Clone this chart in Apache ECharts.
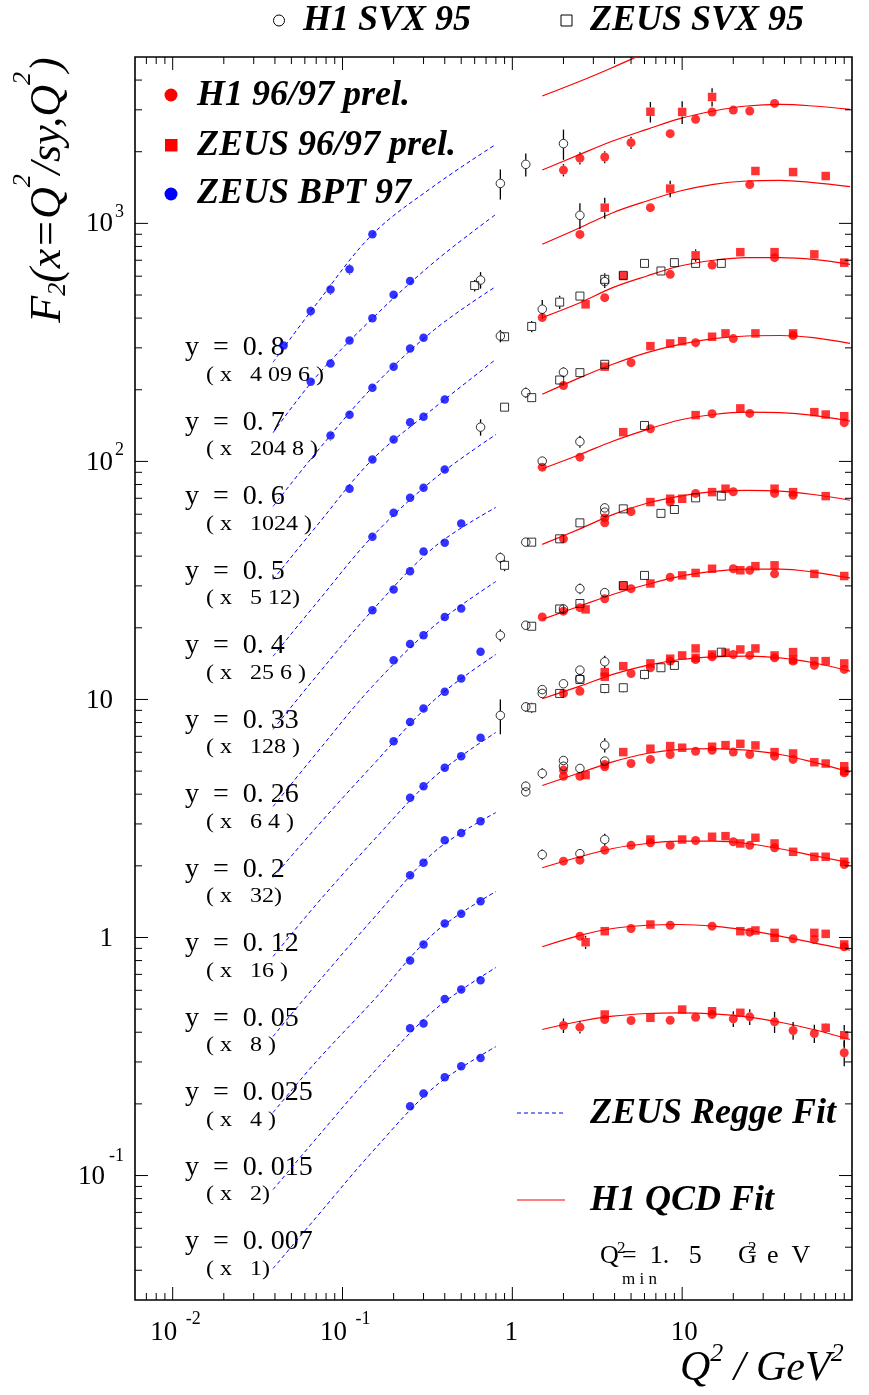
<!DOCTYPE html>
<html>
<head>
<meta charset="utf-8">
<title>F2 at fixed y versus Q2</title>
<script src="https://cdn.jsdelivr.net/npm/echarts@6/dist/echarts.min.js"></script>
<style>
  html, body { margin: 0; padding: 0; background: #ffffff; }
  #chart { width: 869px; height: 1395px; }
</style>
</head>
<body>
<div id="chart"></div>
<script>
// All F2 values below are already multiplied by the factor of their y bin.
// Points: [Q2 in GeV^2, F2 x factor, error (0 or missing = no bar)].

const BIN_Y_LABELS = ['0. 8', '0. 7', '0. 6', '0. 5', '0. 4', '0. 33', '0. 26', '0. 2', '0. 12', '0. 05', '0. 025', '0. 015', '0. 007'];
const BIN_FACTOR_LABELS = ['4 09 6 ', '204 8 ', '1024 ', '5 12', '25 6 ', '128 ', '6 4 ', '32', '16 ', '8 ', '4 ', '2', '1'];

const ZEUS_BPT97 = [
  [0.045, 307], [0.065, 428, 21], [0.085, 528, 26], [0.11, 641, 32], [0.15, 900],
  [0.065, 216], [0.085, 258], [0.11, 322], [0.15, 399], [0.2, 501], [0.25, 573],
  [0.085, 128.5, 6], [0.11, 157], [0.15, 204], [0.2, 250], [0.25, 298], [0.3, 331],
  [0.11, 76.7], [0.15, 101.9], [0.2, 123.6], [0.25, 146], [0.3, 154], [0.4, 182],
  [0.15, 48.3], [0.2, 60.8], [0.25, 70.3], [0.3, 77.6], [0.4, 92.5],
  [0.15, 23.7], [0.2, 29.0], [0.25, 34.6], [0.3, 41.8], [0.4, 45.5], [0.5, 54.8],
  [0.2, 14.6], [0.25, 17.1], [0.3, 18.6], [0.4, 22.2], [0.5, 24.1],
  [0.2, 6.68], [0.25, 8.05], [0.3, 9.17], [0.4, 10.77], [0.5, 12.25], [0.65, 15.86],
  [0.25, 3.86], [0.3, 4.32], [0.4, 5.16], [0.5, 5.78], [0.65, 6.90],
  [0.25, 1.827], [0.3, 2.06], [0.4, 2.56], [0.5, 2.75], [0.65, 3.08],
  [0.25, 0.800], [0.3, 0.935], [0.4, 1.145], [0.5, 1.258], [0.65, 1.420],
  [0.25, 0.416], [0.3, 0.435], [0.4, 0.552], [0.5, 0.605], [0.65, 0.662],
  [0.25, 0.1955], [0.3, 0.221], [0.4, 0.259], [0.5, 0.288], [0.65, 0.312]
];

const H1_SVX95 = [
  [0.85, 1472, 213], [1.2, 1770, 198], [2.0, 2163, 314],
  [2.5, 1081, 133], [0.65, 578, 46],
  [1.5, 436, 40], [3.5, 569, 34],
  [0.85, 336.5, 20], [1.2, 194.5, 10], [2.0, 237, 12],
  [0.65, 139.3, 11], [1.5, 100.3, 3], [2.5, 121.1, 7],
  [0.85, 39.4, 2], [1.2, 45.8, 2], [3.5, 63.8], [3.5, 61.2],
  [0.85, 18.6, 1.1], [1.2, 20.5], [2.0, 24.0], [2.5, 29.2, 1.5], [3.5, 28.1],
  [0.85, 8.57, 1.43], [1.2, 9.31, 0.45], [1.5, 11.0], [1.5, 10.6], [2.0, 11.64], [2.5, 13.28], [2.5, 12.22], [3.5, 14.4, 0.86],
  [1.2, 4.32, 0.2], [1.2, 4.09], [1.5, 4.89, 0.25], [2.0, 5.54], [2.0, 5.24], [2.5, 5.13], [3.5, 6.43, 0.44], [3.5, 5.51],
  [1.5, 2.23, 0.11], [2.5, 2.25, 0.1], [3.5, 2.58, 0.15]
];

const ZEUS_SVX95 = [
  [0.6, 548, 30], [0.9, 334], [1.3, 369, 20], [1.9, 467, 30], [2.5, 495], [3.5, 582, 35], [4.5, 605], [6, 679], [7.5, 631], [9, 684], [12, 679], [17, 679],
  [0.9, 169], [1.3, 185.3], [1.9, 219.8], [2.5, 236], [3.5, 255.9],
  [6, 141.6],
  [0.9, 36.6, 2], [1.3, 45.8], [1.9, 47.3], [2.5, 55.2], [4.5, 63.2], [7.5, 60.5, 2], [9, 62.8, 2], [12, 70.3], [17, 71.5, 2],
  [1.3, 20.3], [1.9, 24.0], [2.5, 25.3], [4.5, 30.1], [6, 33.2],
  [1.3, 9.23, 0.45], [1.9, 10.6], [2.5, 12.13], [3.5, 11.12, 0.5], [4.5, 11.2, 0.5], [6, 12.74, 0.6], [7.5, 13.59], [9, 13.9], [17, 15.8]
];

const H1_9697 = [
  [2, 1675, 100], [2.5, 1879, 110], [3.5, 1901, 110], [5, 2183, 130], [8.5, 2382], [12, 2735], [15, 2938], [20, 2992], [25, 2965], [35, 3192],
  [2.5, 899], [6.5, 1164], [25, 1455],
  [1.5, 402], [3.5, 487.5], [8.5, 611], [15, 668], [35, 718],
  [2, 208.4], [5, 260], [12, 315.5], [20, 328], [45, 338],
  [1.5, 94.6], [2.5, 104.2], [6.5, 137.1], [15, 158.5], [25, 159.1], [90, 145.5],
  [2, 47.3], [3.5, 57.9], [3.5, 55.2], [5, 61.5], [8.5, 67.5], [12, 73.4], [20, 74.6], [35, 73.4], [45, 72.1],
  [1.5, 22.2], [2, 23.5], [2.5, 24.3], [3.5, 26.5], [5, 29.2], [8.5, 32.6], [20, 35.4], [25, 34.9], [35, 33.7],
  [2, 10.6], [2.5, 10.83], [5, 12.86], [6.5, 13.59], [8.5, 14.49], [12, 14.72], [15, 15.11], [20, 15.45], [25, 15.31], [35, 14.96], [45, 14.49], [60, 13.9], [90, 13.37],
  [2, 5.05], [2, 4.76], [2.5, 4.76], [3.5, 5.33], [3.5, 5.21], [5, 5.38], [6.5, 5.60], [8.5, 5.87], [12, 6.06], [15, 6.12], [20, 6.01], [25, 5.87], [35, 5.78], [45, 5.60], [90, 4.92],
  [2, 2.092], [2.5, 2.113], [3.5, 2.327], [5, 2.442], [6.5, 2.50], [8.5, 2.442], [12, 2.556], [20, 2.524], [25, 2.442], [35, 2.381], [90, 2.026],
  [2.5, 1.013], [5, 1.091], [8.5, 1.126], [15, 1.116], [25, 1.053], [45, 0.9875], [60, 0.981], [90, 0.914],
  [2, 0.4269, 0.03], [2.5, 0.420, 0.025], [3.5, 0.4522], [5, 0.448], [8.5, 0.449], [12, 0.4624], [15, 0.4747], [20, 0.4554, 0.035], [25, 0.4642, 0.035], [35, 0.4423, 0.045], [45, 0.4067, 0.035], [60, 0.395, 0.035], [90, 0.3278, 0.04]
];

const ZEUS_9697 = [
  [6.5, 2944, 290], [10, 2938, 320], [15, 3396, 300],
  [3.5, 1164, 117], [8.5, 1400, 112], [27, 1660], [45, 1643], [70, 1581],
  [2.7, 457], [4.5, 601], [12, 734, 44], [22, 757], [35, 757], [60, 741], [90, 684],
  [3.5, 250], [6.5, 305], [8.5, 313], [10, 320], [15, 334], [18, 345], [27, 345], [45, 345],
  [4.5, 132.7], [12, 156.5], [22, 167], [60, 161.1], [70, 157.4], [90, 154.9],
  [6.5, 67.5], [8.5, 69.7], [10, 69.7], [15, 74.3], [18, 76.8], [35, 76.8], [45, 74.3], [70, 71.5],
  [2.7, 23.9], [4.5, 29.9], [6.5, 30.7], [10, 33.2], [12, 34.0], [15, 35.4], [22, 34.9], [27, 36.3], [35, 36.6], [60, 33.7], [90, 33.0],
  [3.5, 13.03], [3.5, 12.46], [4.5, 13.8], [6.5, 14.17], [8.5, 14.83], [10, 15.31], [12, 16.38], [12, 14.96], [15, 15.45], [18, 15.71], [22, 16.22], [27, 16.38], [35, 15.31], [45, 15.81], [45, 14.72], [60, 14.49], [70, 14.49], [90, 14.17],
  [2.7, 4.81], [4.5, 6.01], [6.5, 6.21], [8.5, 6.37], [10, 6.27], [15, 6.33], [18, 6.43], [22, 6.51], [27, 6.41], [35, 6.01], [45, 5.93], [60, 5.45], [70, 5.38], [90, 5.24], [90, 5.00],
  [6.5, 2.58], [10, 2.58], [15, 2.65], [18, 2.665], [22, 2.483], [27, 2.624], [35, 2.483], [45, 2.291], [60, 2.183], [70, 2.183], [90, 2.080],
  [2.7, 0.9555, 0.06], [3.5, 1.063], [6.5, 1.134], [22, 1.063], [27, 1.070], [35, 1.046], [35, 0.997], [60, 1.046], [70, 1.036], [90, 0.935],
  [3.5, 0.4747], [6.5, 0.4598], [10, 0.498], [15, 0.490], [22, 0.4827], [70, 0.4175, 0.02], [90, 0.3886, 0.04]
];

// ZEUS Regge fit, one row per y bin (0.8 ... 0.007)
const REGGE_Q2 = [0.039, 0.07, 0.15, 0.35, 0.8];
const REGGE_FIT = [
  [261, 457, 899, 1445, 2148],
  [132, 227, 399, 692, 1091],
  [64.7, 109, 204.6, 359, 543],
  [31.9, 53.3, 101.9, 168.7, 268.5],
  [15.2, 25.3, 48.4, 84.9, 129.7],
  [7.48, 12.5, 23.7, 43.9, 64.1],
  [3.55, 5.93, 11.35, 20.5, 31.3],
  [1.787, 2.90, 5.28, 10.0, 15.45],
  [0.832, 1.376, 2.53, 4.75, 7.27],
  [0.384, 0.635, 1.19, 2.30, 3.35],
  [0.184, 0.301, 0.538, 1.05, 1.56],
  [0.0873, 0.143, 0.268, 0.498, 0.748],
  [0.0407, 0.0667, 0.126, 0.2366, 0.348]
];

// H1 QCD fit, one row per y bin (0.8 ... 0.007)
const QCD_Q2 = [1.5, 2.5, 3.9, 6.2, 9.7, 15.3, 24, 37.7, 59.2, 97.3];
const QCD_FIT = [
  [3428, 3954, 4519, 5224, 5929],
  [1675, 1950, 2218, 2483, 2754, 2965, 3112, 3162, 3112, 3013],
  [817, 959, 1109, 1242, 1368, 1459, 1507, 1517, 1483, 1426],
  [402, 464, 537, 601, 662, 700, 718, 718, 706, 673],
  [191.4, 224.9, 255.9, 286.4, 310.5, 328, 336.5, 338, 331, 313],
  [93.1, 106.9, 121.6, 136.1, 149.3, 157.4, 161.1, 160.3, 156.0, 147.6],
  [44.8, 52.1, 59.8, 66.7, 71.5, 74.6, 75.5, 75.0, 72.6, 68.7],
  [21.7, 24.7, 27.6, 30.4, 32.9, 34.5, 35.3, 35.3, 34.3, 32.4],
  [10.07, 11.37, 12.74, 13.9, 14.72, 15.11, 15.2, 14.96, 14.26, 13.15],
  [4.35, 4.92, 5.47, 5.93, 6.17, 6.22, 6.12, 5.87, 5.45, 4.95],
  [1.963, 2.183, 2.366, 2.483, 2.539, 2.539, 2.483, 2.359, 2.211, 2.06],
  [0.914, 1.020, 1.091, 1.126, 1.134, 1.116, 1.073, 1.013, 0.950, 0.884],
  [0.4106, 0.4447, 0.467, 0.4794, 0.4827, 0.478, 0.4642, 0.4405, 0.4106, 0.3727]
];

const X_TICK_VALUES = [0.01, 0.1, 1, 10];
const X_TICK_BASE = ['10', '10', '1', '10'];
const X_TICK_EXP = ['-2', '-1', '', ''];
const Y_TICK_VALUES = [0.1, 1, 10, 100, 1000];
const Y_TICK_BASE = ['10', '1', '10', '10', '10'];
const Y_TICK_EXP = ['-1', '', '', '2', '3'];

const X_MIN = 0.006, X_MAX = 100, Y_MIN = 0.03, Y_MAX = 5000;
const SERIF = '"Liberation Serif", "Times New Roman", serif';
const RED = '#ff0000', BLUE = '#0000ff';

const chart = echarts.init(document.getElementById('chart'));

// ---- ticks on all four sides plus the decade labels ----
function renderFrame(params, api) {
  const bl = api.coord([X_MIN, Y_MIN]);
  const tr = api.coord([X_MAX, Y_MAX]);
  const L = bl[0], B = bl[1], R = tr[0], T = tr[1];
  const kids = [];
  const seg = (x1, y1, x2, y2) => kids.push({
    type: 'line', shape: { x1, y1, x2, y2 }, style: { stroke: '#000', lineWidth: 1 }
  });
  const within = (v, lo, hi) => v > lo * 1.001 && v < hi * 0.999;
  for (let e = -3; e <= 3; e++) {
    for (let m = 1; m <= 9; m++) {
      const v = m * Math.pow(10, e);
      const len = m === 1 ? 13 : 7;
      if (within(v, X_MIN, X_MAX)) {
        const x = api.coord([v, Y_MIN])[0];
        seg(x, B, x, B - len);
        seg(x, T, x, T + len);
      }
      if (within(v, Y_MIN, Y_MAX)) {
        const y = api.coord([X_MIN, v])[1];
        seg(L, y, L + len, y);
        seg(R, y, R - len, y);
      }
    }
  }
  const txt = (s, x, y, size, align) => kids.push({
    type: 'text', x, y,
    style: { text: s, fontSize: size, fontFamily: SERIF, fill: '#000', align, verticalAlign: 'middle' }
  });
  X_TICK_VALUES.forEach((v, i) => {
    const x = api.coord([v, Y_MIN])[0];
    if (X_TICK_EXP[i]) {
      txt(X_TICK_BASE[i], x - 9, B + 33, 27, 'center');
      txt(X_TICK_EXP[i], x + 13, B + 19, 18, 'left');
    } else {
      txt(X_TICK_BASE[i], x + (X_TICK_BASE[i].length > 1 ? 2 : -1), B + 33, 27, 'center');
    }
  });
  Y_TICK_VALUES.forEach((v, i) => {
    const y = api.coord([X_MIN, v])[1];
    const exp = Y_TICK_EXP[i];
    if (exp) {
      const neg = exp.charAt(0) === '-';
      txt(Y_TICK_BASE[i], L - (neg ? 30 : 22), y + 1, 27, 'right');
      txt(exp, L - (neg ? 26 : 20), y - (neg ? 19 : 11), 18, 'left');
    } else {
      txt(Y_TICK_BASE[i], L - 22, y + 1, 27, 'right');
    }
  });
  return { type: 'group', children: kids };
}

// ---- vertical error bars, interrupted at the marker ----
const ERRORS = [];
[ZEUS_BPT97, H1_SVX95, ZEUS_SVX95, H1_9697, ZEUS_9697].forEach(set => {
  set.forEach(d => { if (d[2]) ERRORS.push([d[0], d[1], d[1] - d[2], d[1] + d[2]]); });
});
function renderErrorBar(params, api) {
  const q = api.value(0);
  const c = api.coord([q, api.value(1)]);
  const lo = api.coord([q, api.value(2)]);
  const hi = api.coord([q, api.value(3)]);
  const gap = 4.5;
  const kids = [];
  const st = { stroke: '#000', lineWidth: 1.3 };
  if (hi[1] < c[1] - gap) kids.push({ type: 'line', shape: { x1: c[0], y1: c[1] - gap, x2: c[0], y2: hi[1] }, style: st });
  if (lo[1] > c[1] + gap) kids.push({ type: 'line', shape: { x1: c[0], y1: c[1] + gap, x2: c[0], y2: lo[1] }, style: st });
  return { type: 'group', children: kids };
}

const series = [];

REGGE_FIT.forEach(row => {
  series.push({
    type: 'line', silent: true, symbol: 'none', smooth: 0.35, z: 2,
    data: row.map((v, i) => [REGGE_Q2[i], v]),
    lineStyle: { color: BLUE, width: 1, type: [4, 3] }
  });
});
QCD_FIT.forEach(row => {
  series.push({
    type: 'line', silent: true, symbol: 'none', smooth: 0.35, z: 2,
    data: row.map((v, i) => [QCD_Q2[i], v]),
    lineStyle: { color: RED, width: 1.2 }
  });
});

series.push({
  type: 'custom', silent: true, z: 3, data: ERRORS,
  encode: { x: 0, y: 1 }, renderItem: renderErrorBar
});

const pts = arr => arr.map(d => [d[0], d[1]]);
series.push({
  name: 'ZEUS BPT 97', type: 'scatter', z: 4, silent: true, data: pts(ZEUS_BPT97),
  symbol: 'circle', symbolSize: 8.5, itemStyle: { color: BLUE }
});
series.push({
  name: 'H1 96/97 prel.', type: 'scatter', z: 4, silent: true, data: pts(H1_9697),
  symbol: 'circle', symbolSize: 9, itemStyle: { color: RED }
});
series.push({
  name: 'ZEUS 96/97 prel.', type: 'scatter', z: 4, silent: true, data: pts(ZEUS_9697),
  symbol: 'rect', symbolSize: 8.5, itemStyle: { color: RED }
});
series.push({
  name: 'ZEUS SVX 95', type: 'scatter', z: 5, silent: true, data: pts(ZEUS_SVX95),
  symbol: 'rect', symbolSize: 8, itemStyle: { color: 'rgba(255,255,255,0)', borderColor: '#000', borderWidth: 1 }
});
series.push({
  name: 'H1 SVX 95', type: 'scatter', z: 5, silent: true, data: pts(H1_SVX95),
  symbol: 'circle', symbolSize: 8.5, itemStyle: { color: 'rgba(255,255,255,0)', borderColor: '#000', borderWidth: 1 }
});

series.push({
  type: 'custom', silent: true, z: 10, data: [[1, 1]],
  encode: { x: 0, y: 1 }, renderItem: renderFrame
});

// ---- texts and legend keys ----
const legendFont = { fontSize: 36, fontFamily: SERIF, fontWeight: 'bold', fontStyle: 'italic', fill: '#000', verticalAlign: 'middle' };
const graphics = [
  { type: 'circle', shape: { cx: 279, cy: 20.5, r: 5.5 }, style: { fill: '#fff', stroke: '#000', lineWidth: 1 } },
  { type: 'text', x: 303, y: 21, style: Object.assign({ text: 'H1 SVX 95' }, legendFont) },
  { type: 'rect', shape: { x: 561, y: 15, width: 11, height: 11 }, style: { fill: '#fff', stroke: '#000', lineWidth: 1 } },
  { type: 'text', x: 590, y: 21, style: Object.assign({ text: 'ZEUS SVX 95' }, legendFont) },

  { type: 'circle', shape: { cx: 171, cy: 95, r: 6.5 }, style: { fill: RED } },
  { type: 'text', x: 197, y: 96, style: Object.assign({ text: 'H1 96/97 prel.' }, legendFont) },
  { type: 'rect', shape: { x: 165, y: 139, width: 12.5, height: 12.5 }, style: { fill: RED } },
  { type: 'text', x: 197, y: 146, style: Object.assign({ text: 'ZEUS 96/97 prel.' }, legendFont) },
  { type: 'circle', shape: { cx: 171, cy: 194, r: 6.5 }, style: { fill: BLUE } },
  { type: 'text', x: 197, y: 194, style: Object.assign({ text: 'ZEUS BPT 97' }, legendFont) },

  { type: 'line', shape: { x1: 517, y1: 1113, x2: 565, y2: 1113 }, style: { stroke: BLUE, lineWidth: 1, lineDash: [4, 3] } },
  { type: 'text', x: 590, y: 1114, style: Object.assign({ text: 'ZEUS Regge Fit' }, legendFont) },
  { type: 'line', shape: { x1: 517, y1: 1200, x2: 565, y2: 1200 }, style: { stroke: RED, lineWidth: 1.2 } },
  { type: 'text', x: 590, y: 1201, style: Object.assign({ text: 'H1 QCD Fit' }, legendFont) }
];

const plain = (s, x, y, size, sx) => ({
  type: 'text', x, y, scaleX: sx || 1,
  style: { text: s, fontSize: size, fontFamily: SERIF, fill: '#000', verticalAlign: 'middle' }
});
graphics.push(plain('Q', 600, 1256, 26));
graphics.push(plain('2', 617, 1249, 17));
graphics.push(plain('=  1.   5', 622, 1256, 26));
graphics.push(plain('G', 738, 1256, 26));
graphics.push(plain('2', 748, 1249, 17));
graphics.push(plain('e  V', 767, 1256, 26));
graphics.push(plain('m i n', 622, 1280, 17));

BIN_Y_LABELS.forEach((s, i) => {
  const y = 348 + 74.5 * i;
  graphics.push(plain('y  =  ' + s, 185, y, 28));
  graphics.push(plain('( x   ' + BIN_FACTOR_LABELS[i] + ')', 206, y + 27.5, 20, 1.2));
});

const it = { fontStyle: 'italic', fontFamily: SERIF, fill: '#000' };
graphics.push({
  type: 'text', x: 48.5, y: 190, rotation: Math.PI / 2,
  style: {
    text: '{m|F}{sub|2}{m|(x=Q}{sup|2}{m|/sy,Q}{sup|2}{m|)}',
    align: 'center', verticalAlign: 'middle',
    rich: {
      m: Object.assign({ fontSize: 44, lineHeight: 82 }, it),
      sup: Object.assign({ fontSize: 26, verticalAlign: 'top', padding: [3, 0, 0, 0] }, it),
      sub: Object.assign({ fontSize: 26, verticalAlign: 'top', padding: [38, 0, 0, 0] }, it)
    }
  }
});
graphics.push({
  type: 'text', x: 680, y: 1369,
  style: {
    text: '{m|Q}{sup|2}{m| / GeV}{sup|2}',
    align: 'left', verticalAlign: 'middle',
    rich: {
      m: Object.assign({ fontSize: 42, lineHeight: 80 }, it),
      sup: Object.assign({ fontSize: 26, verticalAlign: 'top', padding: [12, 0, 0, 0] }, it)
    }
  }
});

chart.setOption({
  animation: false,
  backgroundColor: '#ffffff',
  grid: {
    left: 135, top: 57, width: 717, height: 1243,
    show: true, borderColor: '#000', borderWidth: 1.6, backgroundColor: 'transparent'
  },
  xAxis: {
    type: 'log', logBase: 10, min: X_MIN, max: X_MAX,
    axisLine: { show: false }, axisTick: { show: false }, axisLabel: { show: false },
    splitLine: { show: false }, minorTick: { show: false }
  },
  yAxis: {
    type: 'log', logBase: 10, min: Y_MIN, max: Y_MAX,
    axisLine: { show: false }, axisTick: { show: false }, axisLabel: { show: false },
    splitLine: { show: false }, minorTick: { show: false }
  },
  series: series,
  graphic: graphics
});
</script>
</body>
</html>
